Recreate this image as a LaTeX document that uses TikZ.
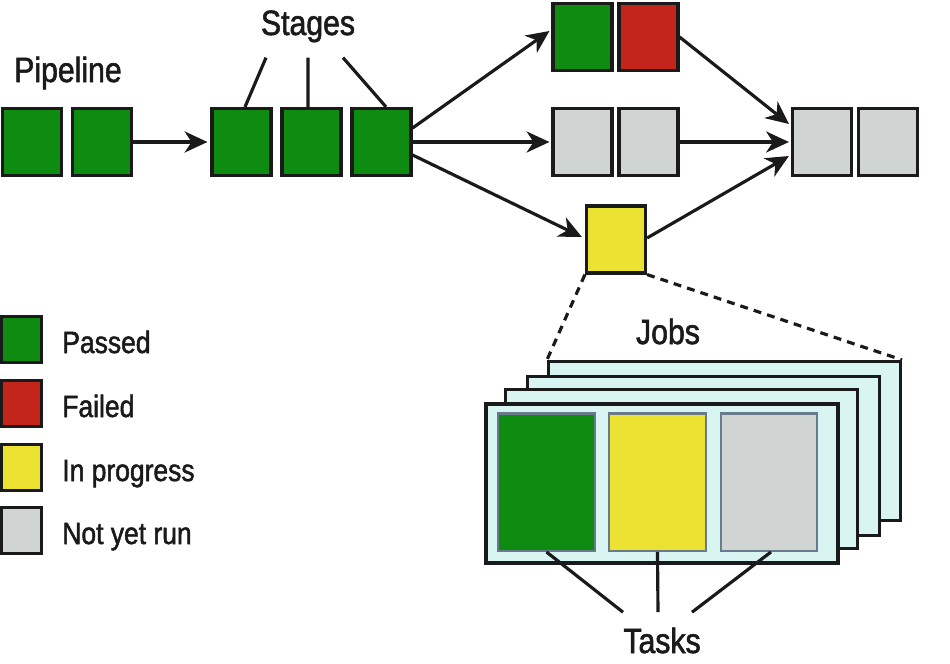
\documentclass[tikz,border=0pt]{standalone}
\usepackage{fontspec}
\setmainfont[FakeStretch=0.86, FakeBold=1.6]{Liberation Sans}
\usetikzlibrary{arrows.meta,positioning}
\definecolor{passgreen}{RGB}{14,140,18}
\definecolor{failred}{RGB}{196,37,26}
\definecolor{runyellow}{RGB}{236,226,50}
\definecolor{waitgray}{RGB}{208,212,211}
\definecolor{jobcyan}{RGB}{216,245,242}
\definecolor{taskedge}{RGB}{104,122,140}
\definecolor{ink}{RGB}{26,26,26}

\begin{document}
\begin{tikzpicture}[x=0.02cm, y=-0.02cm,
  stagebox/.style={draw=ink, line width=1.8pt, inner sep=0pt,
    minimum width=1.18cm, minimum height=1.34cm},
  keybox/.style={draw=ink, line width=1.8pt, inner sep=0pt,
    minimum width=0.8cm, minimum height=0.92cm},
  jobcard/.style={draw=ink, fill=jobcyan, line width=1.8pt, inner sep=0pt,
    minimum width=7.04cm, minimum height=3.18cm},
  taskbox/.style={draw=taskedge, line width=1.4pt, inner sep=0pt,
    minimum width=1.93cm, minimum height=2.75cm},
  flow/.style={draw=ink, line width=1.8pt,
    -{Stealth[length=13pt, width=12pt, inset=4pt]}},
  lead/.style={draw=ink, line width=1.8pt},
  title/.style={text=ink, inner sep=0pt, font=\fontsize{20}{24}\selectfont},
  keytext/.style={text=ink, inner sep=0pt, anchor=base west,
    font=\fontsize{17.5}{21}\selectfont}]

  \useasboundingbox (0,0) rectangle (950,663);

  % --- Pipeline and its stages ---
  \node[title, anchor=base] (pipeline) at (68,82) {Pipeline};
  \node[stagebox, fill=passgreen] (p1) at (32,142) {};
  \node[stagebox, fill=passgreen] (p2) at (102,142) {};

  \node[title, anchor=base] (stages) at (308,35) {Stages};
  \node[stagebox, fill=passgreen] (s1) at (241.5,142) {};
  \node[stagebox, fill=passgreen] (s2) at (311.5,142) {};
  \node[stagebox, fill=passgreen] (s3) at (381.5,142) {};

  % --- Three branches, then the merge ---
  \node[stagebox, fill=passgreen] (a1) at (582.5,37) {};
  \node[stagebox, fill=failred] (a2) at (648.5,37) {};
  \node[stagebox, fill=waitgray] (b1) at (582.5,142) {};
  \node[stagebox, fill=waitgray] (b2) at (648.5,142) {};
  \node[stagebox, fill=runyellow] (c1) at (616,239.5) {};
  \node[stagebox, fill=waitgray] (d1) at (822,142) {};
  \node[stagebox, fill=waitgray] (d2) at (888,142) {};

  \draw[flow] (p2.east) -- ([xshift=-0.06cm]s1.west);
  \draw[flow] ([yshift=0.28cm]s3.east) -- ([xshift=-0.04cm,yshift=0.12cm]a1.west);
  \draw[flow] (s3.east) -- ([xshift=-0.04cm]b1.west);
  \draw[flow] ([yshift=-0.26cm]s3.east) -- ([xshift=-0.06cm,yshift=0.05cm]c1.west);
  \draw[flow] (a2.east) -- ([xshift=-0.04cm,yshift=0.36cm]d1.west);
  \draw[flow] (b2.east) -- ([xshift=-0.04cm]d1.west);
  \draw[flow] ([yshift=0.03cm]c1.east) -- ([xshift=-0.04cm,yshift=-0.28cm]d1.west);

  % --- Pointers from the Stages label ---
  \draw[lead] ([xshift=-0.84cm,yshift=-0.3cm]stages.south) -- ([xshift=0.07cm]s1.north);
  \draw[lead] ([yshift=-0.3cm]stages.south) -- ([xshift=-0.07cm]s2.north);
  \draw[lead] ([xshift=0.7cm,yshift=-0.3cm]stages.south) -- ([xshift=0.09cm]s3.north);

  % --- Legend ---
  \node[keybox, fill=passgreen] (lg1) at (21.5,339.5) {};
  \node[keybox, fill=failred] (lg2) at (21.5,403.5) {};
  \node[keybox, fill=runyellow] (lg3) at (21.5,467.5) {};
  \node[keybox, fill=waitgray] (lg4) at (21.5,530.5) {};
  \node[keytext] (lt1) at (62,353) {Passed};
  \node[keytext] (lt2) at (62,417) {Failed};
  \node[keytext] (lt3) at (62,481) {In progress};
  \node[keytext] (lt4) at (62,544) {Not yet run};

  % --- Stack of jobs inside the running stage (back to front) ---
  \node[jobcard] (j4) at (724.5,441) {};
  \node[jobcard] (j3) at (703.5,456) {};
  \node[jobcard] (j2) at (681.5,469) {};
  \node[jobcard] (j1) at (662,483.5) {};
  \node[title, anchor=base] (jobs) at (668,344) {Jobs};

  \draw[lead, dash pattern=on 4.5pt off 3.5pt] (c1.south west) -- (j4.north west);
  \draw[lead, dash pattern=on 4.5pt off 3.5pt] (c1.south east) -- (j4.north east);

  % --- Tasks of the front job ---
  \node[taskbox, fill=passgreen] (t1) at (546.5,482) {};
  \node[taskbox, fill=runyellow] (t2) at (657.5,482) {};
  \node[taskbox, fill=waitgray] (t3) at (769,482) {};
  \node[title, anchor=base] (tasks) at (662,653) {Tasks};

  \draw[lead] (t1.south) -- ([xshift=-0.78cm,yshift=0.3cm]tasks.north);
  \draw[lead] (t2.south) -- ([xshift=-0.08cm,yshift=0.3cm]tasks.north);
  \draw[lead] ([xshift=0.04cm]t3.south) -- ([xshift=0.6cm,yshift=0.3cm]tasks.north);

\end{tikzpicture}
\end{document}
